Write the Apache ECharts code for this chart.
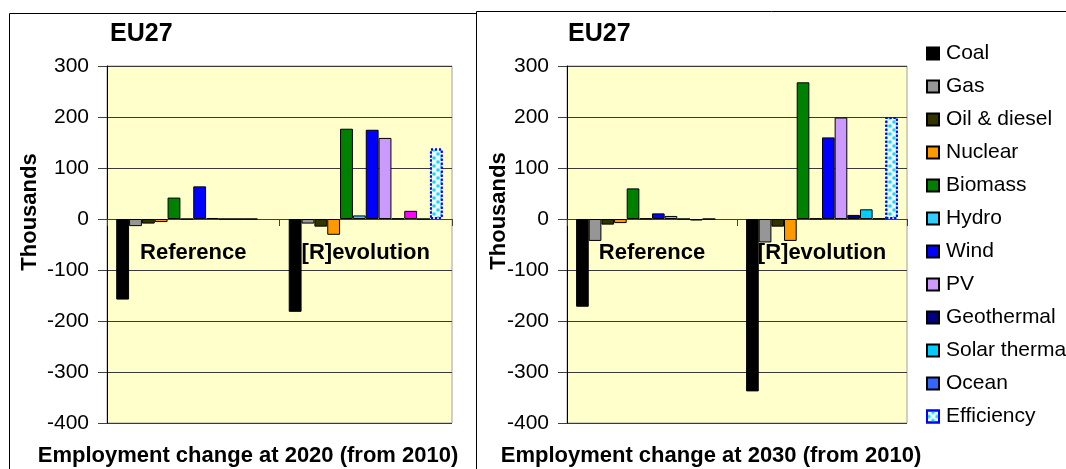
<!DOCTYPE html>
<html>
<head>
<meta charset="utf-8">
<script src="https://cdn.jsdelivr.net/npm/echarts@6/dist/echarts.min.js"></script>
<style>
  html, body { margin: 0; padding: 0; background: #fff; }
  #chart { width: 1066px; height: 469px; }
</style>
</head>
<body>
<div id="chart"></div>
<script>
// Scenarios on the category axis
const categories = ['Reference', '[R]evolution'];

// Technologies (series), in legend order
const technologies = ['Coal', 'Gas', 'Oil & diesel', 'Nuclear', 'Biomass', 'Hydro',
  'Wind', 'PV', 'Geothermal', 'Solar thermal', 'Ocean', 'Efficiency'];

// Employment change at 2020 vs 2010, thousands: [Reference, [R]evolution]
const coal2020 = [-158, -182];
const gas2020 = [-14, -9];
const oil2020 = [-9, -15];
const nuclear2020 = [-6, -31];
const biomass2020 = [42, 177];
const hydro2020 = [0, 7];
const wind2020 = [64, 175];
const pv2020 = [2, 159];
const geothermal2020 = [0, 1];
const solarThermal2020 = [0, 16];
const ocean2020 = [0, 0];
const efficiency2020 = [null, 138];

// Employment change at 2030 vs 2010, thousands: [Reference, [R]evolution]
const coal2030 = [-172, -338];
const gas2030 = [-43, -46];
const oil2030 = [-11, -15];
const nuclear2030 = [-8, -43];
const biomass2030 = [60, 268];
const hydro2030 = [1, 1];
const wind2030 = [11, 160];
const pv2030 = [6, 199];
const geothermal2030 = [0, 8];
const solarThermal2030 = [-3, 19];
const ocean2030 = [0, 1];
const efficiency2030 = [null, 200];

// Value axis range and tick labels
const yMin = -400, yMax = 300, yStep = 100;
const yTicks = ['-400', '-300', '-200', '-100', '0', '100', '200', '300'];

const values2020 = [coal2020, gas2020, oil2020, nuclear2020, biomass2020, hydro2020,
  wind2020, pv2020, geothermal2020, solarThermal2020, ocean2020, efficiency2020];
const values2030 = [coal2030, gas2030, oil2030, nuclear2030, biomass2030, hydro2030,
  wind2030, pv2030, geothermal2030, solarThermal2030, ocean2030, efficiency2030];

const colors2030 = ['#000000', '#969696', '#333300', '#FF9900', '#008000', '#33CCFF',
  '#0000FF', '#CC99FF', '#000080', '#00CCFF', '#3366FF', '#FFFFFF'];
const colors2020 = colors2030.slice();
colors2020[9] = '#FF00FF';

const FONT = '"Liberation Sans", Arial, sans-serif';

function makeSeries(values, colors, axisIndex) {
  return technologies.map((name, i) => {
    const eff = name === 'Efficiency';
    return {
      name: name,
      type: 'bar',
      xAxisIndex: axisIndex,
      yAxisIndex: axisIndex,
      barGap: '0%',
      barCategoryGap: '10.7%',
      data: values[i],
      itemStyle: eff ? {
        color: '#E6FBFF',
        borderColor: '#0000FF',
        borderWidth: 2,
        borderType: [2, 2],
        decal: {
          symbol: 'circle',
          symbolSize: 0.9,
          color: '#22D8F0',
          dashArrayX: [[4, 4], [0, 4, 4, 0]],
          dashArrayY: [4, 0]
        }
      } : {
        color: colors[i],
        borderColor: '#000000',
        borderWidth: 1
      },
      emphasis: { disabled: true },
      animation: false
    };
  });
}

function makeXAxis(gridIndex) {
  return {
    type: 'category',
    gridIndex: gridIndex,
    data: categories,
    axisLine: { onZero: true, lineStyle: { color: '#404040', width: 1 } },
    axisTick: { show: true, length: 7, lineStyle: { color: '#404040' } },
    axisLabel: { show: false }
  };
}

function makeYAxis(gridIndex) {
  return {
    type: 'value',
    gridIndex: gridIndex,
    min: yMin, max: yMax, interval: yStep,
    axisLine: { show: true, lineStyle: { color: '#000', width: 1 } },
    axisTick: { show: true, length: 9, lineStyle: { color: '#404040' } },
    axisLabel: {
      margin: 18, fontFamily: FONT, fontSize: 21, color: '#000',
      formatter: v => yTicks[Math.round((v - yMin) / yStep)]
    },
    splitLine: { show: true, lineStyle: { color: '#3a3a3a', width: 1 } }
  };
}

const titleStyle = { fontFamily: FONT, fontWeight: 'bold', color: '#000' };

// Frames around each panel and the rotated value-axis names
const baseGraphic = [
  { id: 'frameL', type: 'rect', shape: { x: 9.5, y: 13.5, width: 467, height: 470 },
    style: { fill: 'none', stroke: '#000', lineWidth: 1 }, z: 0 },
  { id: 'frameR', type: 'rect', shape: { x: 476.5, y: 11.5, width: 600, height: 470 },
    style: { fill: 'none', stroke: '#000', lineWidth: 1 }, z: 0 },
  { id: 'yNameL', type: 'text', x: 30, y: 212, rotation: Math.PI / 2,
    style: { text: 'Thousands', fontFamily: FONT, fontSize: 22, fontWeight: 'bold',
      fill: '#000', align: 'center', verticalAlign: 'middle' } },
  { id: 'yNameR', type: 'text', x: 499, y: 211, rotation: Math.PI / 2,
    style: { text: 'Thousands', fontFamily: FONT, fontSize: 22, fontWeight: 'bold',
      fill: '#000', align: 'center', verticalAlign: 'middle' } }
];

const chart = echarts.init(document.getElementById('chart'), null, { renderer: 'canvas' });
chart.setOption({
  backgroundColor: '#FFFFFF',
  animation: false,
  title: [
    { text: 'EU27', left: 110, top: 22, padding: 0, textStyle: Object.assign({ fontSize: 25 }, titleStyle) },
    { text: 'EU27', left: 568, top: 22, padding: 0, textStyle: Object.assign({ fontSize: 25 }, titleStyle) },
    { text: 'Employment change at 2020 (from 2010)', left: 248, top: 445, padding: 0, textAlign: 'center',
      textStyle: Object.assign({ fontSize: 22 }, titleStyle) },
    { text: 'Employment change at 2030 (from 2010)', left: 711, top: 445, padding: 0, textAlign: 'center',
      textStyle: Object.assign({ fontSize: 22 }, titleStyle) }
  ],
  graphic: baseGraphic,
  legend: {
    orient: 'vertical',
    left: 926,
    top: 43,
    padding: 0,
    itemWidth: 12,
    itemHeight: 12,
    itemGap: 12,
    icon: 'rect',
    selectedMode: false,
    data: technologies,
    textStyle: { fontFamily: FONT, fontSize: 21, lineHeight: 21, color: '#000', padding: [0, 0, 0, 2] }
  },
  grid: [
    { left: 107, top: 66, width: 345, height: 357, show: true,
      backgroundColor: '#FFFFCC', borderColor: '#A0A0A0', borderWidth: 1 },
    { left: 567, top: 66, width: 340, height: 357, show: true,
      backgroundColor: '#FFFFCC', borderColor: '#A0A0A0', borderWidth: 1 }
  ],
  xAxis: [makeXAxis(0), makeXAxis(1)],
  yAxis: [makeYAxis(0), makeYAxis(1)],
  // 2030 series first so the legend swatches take the 2030 colours
  series: makeSeries(values2030, colors2030, 1).concat(makeSeries(values2020, colors2020, 0))
});

// Scenario names sit just under the zero line, centred on each category
const catLabels = [];
[0, 1].forEach(g => {
  categories.forEach((c, k) => {
    const p = chart.convertToPixel({ gridIndex: g }, [c, 0]);
    catLabels.push({
      id: 'cat' + g + '_' + k, type: 'text', x: p[0], y: p[1] + 34, z: 10,
      style: { text: c, fontFamily: FONT, fontSize: 22, fontWeight: 'bold',
        fill: '#000', align: 'center', verticalAlign: 'middle' }
    });
  });
});
chart.setOption({ graphic: baseGraphic.concat(catLabels) });
</script>
</body>
</html>
